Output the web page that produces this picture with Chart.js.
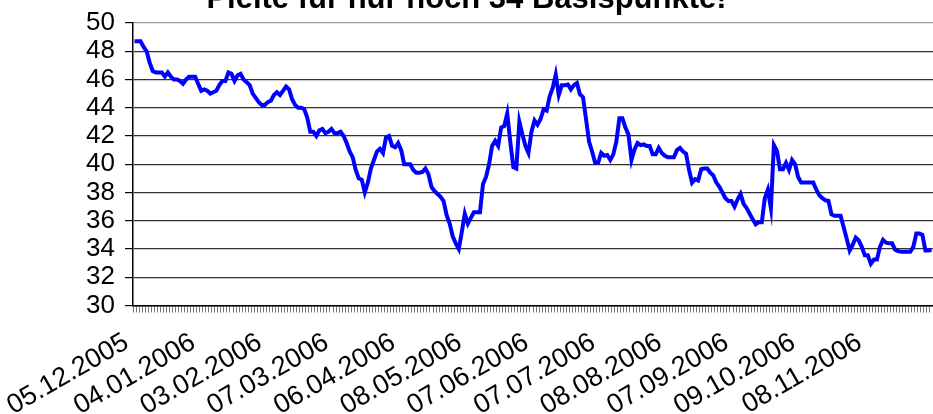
<!DOCTYPE html>
<html>
<head>
<meta charset="utf-8">
<title>Pleite für nur noch 34 Basispunkte!</title>
<script src="https://cdn.jsdelivr.net/npm/chart.js@4.4.1/dist/chart.umd.min.js"></script>
<style>
    html, body {
        margin: 0;
        padding: 0;
        background: #ffffff;
    }

    #wrap {
        position: relative;
        width: 933px;
        height: 414px;
        overflow: hidden;
    }

    #title {
        position: absolute;
        top: -20px;
        left: 0;
        width: 933px;
        text-align: center;
        font: bold 31px Arial, "Liberation Sans", sans-serif;
        line-height: 36px;
        color: #000;
        white-space: nowrap;
    }
</style>
</head>
<body>

<div id="wrap">
    <canvas id="spreadChart" width="933" height="414"></canvas>
    <div id="title">Pleite für nur noch 34 Basispunkte!</div>
</div>

<script>

// =========================
// Data
// =========================

// first trading day of the series, one value per weekday after it
const startDate = "2005-12-05";

// labels printed under the axis
const tickLabels = [
    "05.12.2005", "04.01.2006", "03.02.2006", "07.03.2006",
    "06.04.2006", "08.05.2006", "07.06.2006", "07.07.2006",
    "08.08.2006", "07.09.2006", "09.10.2006", "08.11.2006"
];

// spread in basis points
const spreadValues = [
    48.7, 48.7, 48.7, 48.3, 48.0, 47.2, 46.6, 46.5, 46.5, 46.5,
    46.2, 46.5, 46.2, 46.0, 46.0, 45.9, 45.7, 46.0, 46.2, 46.2,
    46.2, 45.7, 45.2, 45.3, 45.2, 45.0, 45.1, 45.2, 45.6, 45.9,
    45.9, 46.5, 46.4, 45.9, 46.3, 46.4, 46.0, 45.8, 45.6, 45.0,
    44.7, 44.4, 44.2, 44.2, 44.4, 44.5, 44.9, 45.1, 44.9, 45.2,
    45.5, 45.3, 44.6, 44.2, 44.0, 44.0, 43.9, 43.3, 42.3, 42.3,
    42.0, 42.4, 42.5, 42.2, 42.3, 42.5, 42.2, 42.2, 42.3, 42.0,
    41.5, 40.9, 40.5, 39.6, 39.0, 38.9, 38.0, 38.7, 39.7, 40.3,
    40.9, 41.1, 40.8, 41.9, 42.0, 41.3, 41.2, 41.5, 41.0, 40.0,
    40.0, 40.0, 39.6, 39.4, 39.4, 39.45, 39.7, 39.3, 38.4, 38.1,
    37.9, 37.7, 37.4, 36.4, 35.8, 34.9, 34.4, 34.0, 35.2, 36.5,
    35.8, 36.2, 36.6, 36.6, 36.6, 38.6, 39.1, 40.0, 41.3, 41.65,
    41.3, 42.6, 42.7, 43.6, 41.6, 39.8, 39.7, 43.0, 42.1, 41.3,
    40.8, 42.3, 43.1, 42.8, 43.2, 43.9, 43.8, 44.8, 45.4, 46.35,
    44.9, 45.6, 45.6, 45.65, 45.3, 45.6, 45.75, 44.95, 44.75, 43.2,
    41.6, 40.9, 40.1, 40.1, 40.8, 40.6, 40.65, 40.3, 40.7, 41.6,
    43.25, 43.25, 42.6, 42.1, 40.3, 41.05, 41.5, 41.35, 41.4, 41.3,
    41.3, 40.7, 40.7, 41.15, 40.8, 40.6, 40.5, 40.5, 40.5, 41.0,
    41.15, 40.9, 40.75, 39.6, 38.7, 38.95, 38.85, 39.65, 39.7, 39.7,
    39.4, 39.2, 38.7, 38.4, 38.0, 37.6, 37.4, 37.4, 37.0, 37.5,
    37.9, 37.2, 36.9, 36.5, 36.1, 35.75, 35.9, 35.9, 37.6, 38.2,
    36.9, 41.35, 40.95, 39.65, 39.65, 40.1, 39.6, 40.3, 40.0, 39.1,
    38.7, 38.7, 38.7, 38.7, 38.7, 38.2, 37.8, 37.6, 37.45, 37.4,
    36.45, 36.35, 36.35, 36.35, 35.55, 34.75, 33.9, 34.3, 34.8, 34.6,
    34.15, 33.55, 33.55, 32.95, 33.25, 33.25, 34.15, 34.65, 34.45, 34.4,
    34.4, 33.95, 33.85, 33.8, 33.8, 33.8, 33.8, 34.15, 35.1, 35.1,
    35.0, 33.9, 33.9, 33.95
];

// y axis
const yMin = 30;
const yMax = 50;
const yStep = 2;

// =========================
// Weekday categories
// =========================

function pad2(n) {
    return n < 10 ? "0" + n : "" + n;
}

function weekdayLabels(start, count) {

    const labels = [];
    const d = new Date(start + "T12:00:00");

    while (labels.length < count) {
        const day = d.getDay();
        if (day !== 0 && day !== 6) {
            labels.push(
                pad2(d.getDate()) + "." +
                pad2(d.getMonth() + 1) + "." +
                d.getFullYear()
            );
        }
        d.setDate(d.getDate() + 1);
    }

    return labels;
}

const categories = weekdayLabels(startDate, spreadValues.length);

// =========================
// Chart
// =========================

const fontFamily = "Arial, 'Liberation Sans', sans-serif";

new Chart(document.getElementById("spreadChart"), {

    type: "line",

    data: {
        labels: categories,
        datasets: [{
            data: spreadValues,
            borderColor: "#0000ff",
            borderWidth: 4,
            pointRadius: 0,
            tension: 0,
            fill: false
        }]
    },

    options: {
        responsive: false,
        animation: false,
        layout: {
            padding: { left: 0, top: 21, right: 0, bottom: 0 }
        },
        plugins: {
            legend: { display: false },
            tooltip: { enabled: false },
            title: { display: false }
        },
        scales: {
            x: {
                offset: true,
                grid: {
                    offset: true,
                    drawOnChartArea: false,
                    drawTicks: true,
                    tickLength: 7,
                    color: "#7a7a7a",
                    lineWidth: 1
                },
                border: { color: "#000", width: 1.5 },
                ticks: {
                    autoSkip: false,
                    minRotation: 30,
                    maxRotation: 30,
                    padding: 14,
                    labelOffset: -8,
                    color: "#000",
                    font: { family: fontFamily, size: 27 },
                    callback: function(value) {
                        const label = this.getLabelForValue(value);
                        return tickLabels.includes(label) ? label : "";
                    }
                },
                afterFit: function(scale) {
                    scale.paddingLeft = 0;
                    scale.paddingRight = 0;
                    scale.height = 108.5;
                }
            },
            y: {
                min: yMin,
                max: yMax,
                grid: {
                    color: (ctx) => ctx.tick && ctx.tick.value === yMax ? "#999" : "#333",
                    tickColor: "#000",
                    tickLength: 8,
                    lineWidth: 1.2
                },
                border: { color: "#000", width: 1.5 },
                ticks: {
                    stepSize: yStep,
                    autoSkip: false,
                    padding: 10,
                    color: "#000",
                    font: { family: fontFamily, size: 26, lineHeight: 1 }
                },
                afterFit: function(scale) {
                    scale.width = 133;
                }
            }
        }
    }
});

</script>
</body>
</html>
